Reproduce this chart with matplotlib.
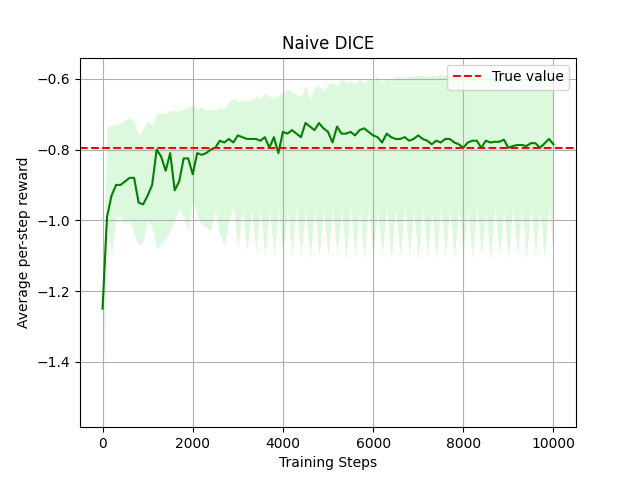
import numpy as np
import matplotlib.pyplot as plt

# 训练步数
steps = list(range(0, 10001, 100))

# 平均值曲线
mean = [-1.25, -0.99, -0.93, -0.90, -0.90, -0.89, -0.88, -0.88, -0.95, -0.955,
        -0.93, -0.90, -0.80, -0.82, -0.86, -0.81, -0.915, -0.89, -0.825, -0.825,
        -0.87, -0.81, -0.815, -0.81, -0.80, -0.795, -0.775, -0.78, -0.77, -0.78,
        -0.76, -0.765, -0.77, -0.77, -0.77, -0.775, -0.765, -0.795, -0.765, -0.81,
        -0.75, -0.755, -0.745, -0.755, -0.765, -0.725, -0.735, -0.745, -0.725, -0.74,
        -0.75, -0.78, -0.735, -0.755, -0.755, -0.75, -0.76, -0.745, -0.74, -0.75,
        -0.76, -0.765, -0.78, -0.755, -0.765, -0.77, -0.77, -0.765, -0.775, -0.77,
        -0.76, -0.77, -0.775, -0.785, -0.775, -0.78, -0.77, -0.77, -0.78, -0.785,
        -0.795, -0.78, -0.775, -0.775, -0.795, -0.775, -0.78, -0.778, -0.778, -0.772,
        -0.795, -0.79, -0.787, -0.787, -0.79, -0.782, -0.782, -0.795, -0.783, -0.77,
        -0.785]

# 上界
upper = [-1.20, -0.735, -0.73, -0.73, -0.725, -0.715, -0.71, -0.72, -0.76, -0.74,
         -0.72, -0.73, -0.70, -0.695, -0.70, -0.69, -0.69, -0.69, -0.685, -0.68,
         -0.675, -0.685, -0.68, -0.69, -0.685, -0.69, -0.68, -0.685, -0.665, -0.655,
         -0.665, -0.66, -0.66, -0.66, -0.65, -0.655, -0.64, -0.65, -0.655, -0.645,
         -0.64, -0.63, -0.635, -0.645, -0.65, -0.62, -0.66, -0.62, -0.62, -0.635,
         -0.615, -0.61, -0.62, -0.60, -0.61, -0.605, -0.615, -0.60, -0.61, -0.60,
         -0.60, -0.595, -0.61, -0.60, -0.605, -0.595, -0.595, -0.60, -0.59, -0.595,
         -0.59, -0.59, -0.595, -0.59, -0.59, -0.585, -0.59, -0.59, -0.585, -0.59,
         -0.585, -0.59, -0.585, -0.59, -0.585, -0.59, -0.59, -0.585, -0.59, -0.585,
         -0.59, -0.585, -0.59, -0.59, -0.585, -0.59, -0.585, -0.59, -0.585, -0.59,
         -0.585]

# 下界
lower = [-1.55, -1.00, -1.10, -0.99, -0.99, -1.01, -1.00, -1.04, -1.07, -1.06,
         -1.00, -1.02, -1.08, -1.07, -1.05, -1.03, -1.00, -0.97, -0.99, -1.03,
         -0.94, -0.99, -1.01, -1.02, -1.03, -0.97, -1.04, -1.07, -1.00, -0.96,
         -1.08, -0.97, -1.09, -0.97, -1.09, -0.97, -1.10, -0.97, -1.10, -0.97,
         -1.10, -0.97, -1.10, -0.96, -1.10, -0.97, -1.11, -0.97, -1.10, -0.97,
         -1.10, -0.96, -1.10, -0.97, -1.11, -0.96, -1.10, -0.97, -1.11, -0.96,
         -1.10, -0.97, -1.10, -0.96, -1.11, -0.97, -1.10, -0.96, -1.10, -0.97,
         -1.11, -0.96, -1.10, -0.97, -1.11, -0.96, -1.10, -0.97, -1.11, -0.96,
         -1.10, -0.97, -1.11, -0.96, -1.10, -0.97, -1.11, -0.96, -1.10, -0.97,
         -1.11, -0.96, -1.10, -0.97, -1.11, -0.96, -1.10, -0.97, -1.11, -0.96,
         -1.10]

true_value = -0.795

fig, ax = plt.subplots(figsize=(6.4, 4.8), dpi=100)
ax.fill_between(steps, lower, upper, color='lightgreen', alpha=0.3, linewidth=0)
ax.plot(steps, mean, color='green')
ax.axhline(true_value, color='red', linestyle='--', label='True value')
ax.set_title('Naive DICE')
ax.set_xlabel('Training Steps')
ax.set_ylabel('Average per-step reward')
ax.set_ylim(-1.585, -0.54)
ax.grid(True)
ax.legend(loc='upper right')
plt.savefig('out.png')
